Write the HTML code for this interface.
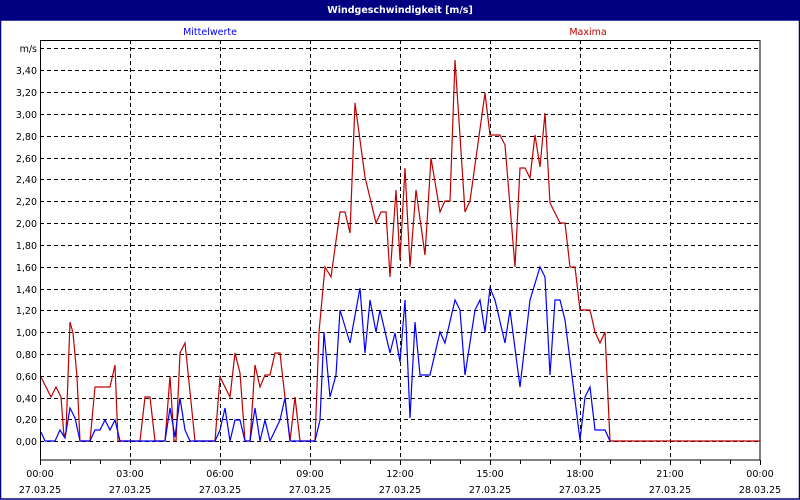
<!DOCTYPE html>
<html><head><meta charset="utf-8"><style>
html,body{margin:0;padding:0;background:#fff;}
svg{display:block;}
text{font-family:"DejaVu Sans","Liberation Sans",sans-serif;font-size:9.5px;}
</style></head><body>
<svg width="800" height="500" viewBox="0 0 800 500" xmlns="http://www.w3.org/2000/svg">
<rect x="0" y="0" width="800" height="500" fill="#fff"/>
<rect x="0" y="0" width="800" height="20" fill="#000080"/>
<rect x="0.5" y="20" width="799" height="479" fill="none" stroke="#000080" stroke-width="1.5"/>
<text x="400" y="13" fill="#fff" text-anchor="middle" font-weight="bold">Windgeschwindigkeit [m/s]</text>
<text x="210" y="35" fill="#0000ff" text-anchor="middle">Mittelwerte</text>
<text x="588" y="35" fill="#c00000" text-anchor="middle">Maxima</text>
<g stroke="#000" stroke-width="1" stroke-dasharray="4,3" fill="none">
<path d="M40 48.5H760M40 70.5H760M40 92.5H760M40 114.5H760M40 136.5H760M40 158.5H760M40 179.5H760M40 201.5H760M40 223.5H760M40 245.5H760M40 267.5H760M40 289.5H760M40 310.5H760M40 332.5H760M40 354.5H760M40 376.5H760M40 398.5H760M40 419.5H760M40 441.5H760"/>
<path d="M130.5 40V460M220.5 40V460M310.5 40V460M400.5 40V460M490.5 40V460M580.5 40V460M670.5 40V460"/>
</g>
<rect x="40.5" y="40.5" width="719.5" height="419.5" fill="none" stroke="#000" stroke-width="1"/>
<g stroke="#000" stroke-width="1">
<path d="M40.5 460V465M70.5 460V464M100.5 460V464M130.5 460V465M160.5 460V464M190.5 460V464M220.5 460V465M250.5 460V464M280.5 460V464M310.5 460V465M340.5 460V464M370.5 460V464M400.5 460V465M430.5 460V464M460.5 460V464M490.5 460V465M520.5 460V464M550.5 460V464M580.5 460V465M610.5 460V464M640.5 460V464M670.5 460V465M700.5 460V464M730.5 460V464M760.5 460V465"/>
</g>
<g fill="#000" text-anchor="end">
<text x="37" y="52">m/s</text>
<text x="37" y="74">3,40</text><text x="37" y="96">3,20</text><text x="37" y="118">3,00</text>
<text x="37" y="140">2,80</text><text x="37" y="162">2,60</text><text x="37" y="183">2,40</text>
<text x="37" y="205">2,20</text><text x="37" y="227">2,00</text><text x="37" y="249">1,80</text>
<text x="37" y="271">1,60</text><text x="37" y="293">1,40</text><text x="37" y="314">1,20</text>
<text x="37" y="336">1,00</text><text x="37" y="358">0,80</text><text x="37" y="380">0,60</text>
<text x="37" y="402">0,40</text><text x="37" y="423">0,20</text><text x="37" y="445">0,00</text>
</g>
<g fill="#000" text-anchor="middle">
<text x="40" y="477">00:00</text><text x="40" y="493">27.03.25</text>
<text x="130" y="477">03:00</text><text x="130" y="493">27.03.25</text>
<text x="220" y="477">06:00</text><text x="220" y="493">27.03.25</text>
<text x="310" y="477">09:00</text><text x="310" y="493">27.03.25</text>
<text x="400" y="477">12:00</text><text x="400" y="493">27.03.25</text>
<text x="490" y="477">15:00</text><text x="490" y="493">27.03.25</text>
<text x="580" y="477">18:00</text><text x="580" y="493">27.03.25</text>
<text x="670" y="477">21:00</text><text x="670" y="493">27.03.25</text>
<text x="760" y="477">00:00</text><text x="760" y="493">28.03.25</text>
</g>
<polyline fill="none" stroke="#c00000" stroke-width="1.2" points="41,377 51,397 56,387 61,397 64,437 66,432 70,322 73,333 77,377 80,441 90,441 95,387 110,387 115,365 118,441 140,441 145,397 150,397 155,441 165,441 170,376 174,441 176,441 180,353 185,343 195,441 215,441 220,377 230,397 235,353 240,373 245,441 250,441 255,365 260,387 265,375 270,375 275,353 280,353 285,398 290,441 295,397 300,441 315,441 319,332 325,267 331,277 340,212 345,212 350,233 355,103 365,177 376,223 381,212 386,212 390,277 396,190 400,260 405,168 410,267 416,190 425,255 431,158 440,212 445,201 450,201 455,60 465,212 470,201 485,93 490,135 500,135 505,145 515,267 520,168 525,168 530,178 535,135 540,167 545,113 550,203 560,223 565,223 570,267 575,267 580,310 590,310 595,332 600,343 605,332 610,441 760,441"/>
<polyline fill="none" stroke="#0000ff" stroke-width="1.2" points="41,432 45,441 55,441 60,430 65,438 70,408 75,418 80,441 90,441 95,430 100,430 105,420 110,430 115,420 120,441 165,441 170,408 175,437 180,398 185,430 190,441 215,441 220,430 225,408 230,441 235,420 240,420 245,441 250,441 255,408 260,441 265,420 270,441 280,420 285,398 290,441 315,441 320,420 324,332 330,397 336,375 340,310 350,343 360,288 365,353 370,300 376,332 380,310 390,353 395,333 400,362 405,300 410,418 415,322 420,375 430,375 440,332 445,343 455,300 460,310 465,375 475,310 480,300 485,332 490,288 495,300 505,343 510,310 520,387 530,300 540,267 545,277 550,375 555,300 560,300 565,320 580,440 585,397 590,387 595,430 605,430 610,441"/>
</svg>
</body></html>
